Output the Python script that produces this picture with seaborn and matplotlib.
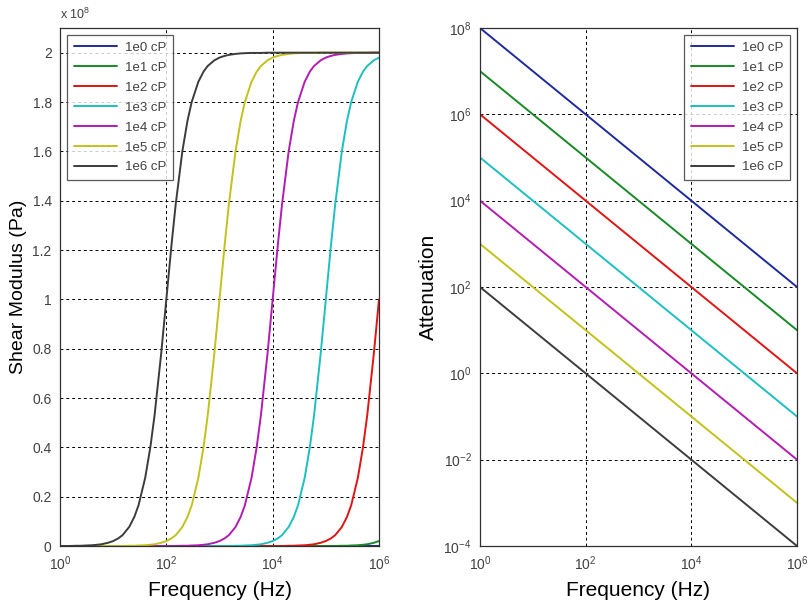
import matplotlib
matplotlib.use("Agg")
import matplotlib.pyplot as plt
import numpy as np
import pandas as pd
import seaborn as sns

# ---------------- data ----------------
labels = ["1e0 cP", "1e1 cP", "1e2 cP", "1e3 cP", "1e4 cP", "1e5 cP", "1e6 cP"]
colors = ["#1f2a9c", "#178a25", "#e01414", "#1cc0c0", "#b21cb2", "#c2c21c", "#3c3c3c"]

freq = [1, 1.25, 1.5, 2, 2.5, 3, 4, 5, 6, 8,
        10, 12.5, 15, 20, 25, 30, 40, 50, 60, 80,
        100, 125, 150, 200, 250, 300, 400, 500, 600, 800,
        1e3, 1.25e3, 1.5e3, 2e3, 2.5e3, 3e3, 4e3, 5e3, 6e3, 8e3,
        1e4, 1.25e4, 1.5e4, 2e4, 2.5e4, 3e4, 4e4, 5e4, 6e4, 8e4,
        1e5, 1.25e5, 1.5e5, 2e5, 2.5e5, 3e5, 4e5, 5e5, 6e5, 8e5,
        1e6]

# shear modulus in units of 1e8 Pa
shear_1e0 = [0, 0, 0, 0, 0, 0, 0, 0, 0, 0,
             0, 0, 0, 0, 0, 0, 0, 0, 0, 0,
             0, 0, 0, 0, 0, 0, 0, 0, 0, 0,
             0, 0, 0, 0, 0, 0, 0, 0, 0, 0,
             0, 0, 0, 0, 0, 0, 0, 0, 0, 0,
             0, 0, 0, 0, 0, 0, 0, 0, 0, 0.0001,
             0.0002]
shear_1e1 = [0, 0, 0, 0, 0, 0, 0, 0, 0, 0,
             0, 0, 0, 0, 0, 0, 0, 0, 0, 0,
             0, 0, 0, 0, 0, 0, 0, 0, 0, 0,
             0, 0, 0, 0, 0, 0, 0, 0, 0, 0,
             0, 0, 0, 0, 0, 0, 0, 0, 0, 0,
             0.000, 0.000, 0.000, 0.001, 0.001, 0.002, 0.003, 0.005, 0.007, 0.013,
             0.020]
shear_1e2 = [0, 0, 0, 0, 0, 0, 0, 0, 0, 0,
             0, 0, 0, 0, 0, 0, 0, 0, 0, 0,
             0, 0, 0, 0, 0, 0, 0, 0, 0, 0,
             0, 0, 0, 0, 0, 0, 0, 0, 0, 0,
             0.000, 0.000, 0.000, 0.001, 0.001, 0.002, 0.003, 0.005, 0.007, 0.013,
             0.020, 0.031, 0.044, 0.077, 0.118, 0.165, 0.276, 0.400, 0.529, 0.780,
             1.000]
shear_1e3 = [0, 0, 0, 0, 0, 0, 0, 0, 0, 0,
             0, 0, 0, 0, 0, 0, 0, 0, 0, 0,
             0, 0, 0, 0, 0, 0, 0, 0, 0, 0,
             0.000, 0.000, 0.000, 0.001, 0.001, 0.002, 0.003, 0.005, 0.007, 0.013,
             0.020, 0.031, 0.044, 0.077, 0.118, 0.165, 0.276, 0.400, 0.529, 0.780,
             1.000, 1.220, 1.385, 1.600, 1.724, 1.800, 1.882, 1.923, 1.946, 1.969,
             1.980]
shear_1e4 = [0, 0, 0, 0, 0, 0, 0, 0, 0, 0,
             0, 0, 0, 0, 0, 0, 0, 0, 0, 0,
             0.000, 0.000, 0.000, 0.001, 0.001, 0.002, 0.003, 0.005, 0.007, 0.013,
             0.020, 0.031, 0.044, 0.077, 0.118, 0.165, 0.276, 0.400, 0.529, 0.780,
             1.000, 1.220, 1.385, 1.600, 1.724, 1.800, 1.882, 1.923, 1.946, 1.969,
             1.980, 1.987, 1.991, 1.995, 1.997, 1.998, 1.999, 1.999, 1.999, 2.000,
             2.000]
shear_1e5 = [0, 0, 0, 0, 0, 0, 0, 0, 0, 0,
             0.000, 0.000, 0.000, 0.001, 0.001, 0.002, 0.003, 0.005, 0.007, 0.013,
             0.020, 0.031, 0.044, 0.077, 0.118, 0.165, 0.276, 0.400, 0.529, 0.780,
             1.000, 1.220, 1.385, 1.600, 1.724, 1.800, 1.882, 1.923, 1.946, 1.969,
             1.980, 1.987, 1.991, 1.995, 1.997, 1.998, 1.999, 1.999, 1.999, 2.000,
             2.000, 2.000, 2.000, 2.000, 2.000, 2.000, 2.000, 2.000, 2.000, 2.000,
             2.000]
shear_1e6 = [0.000, 0.000, 0.000, 0.001, 0.001, 0.002, 0.003, 0.005, 0.007, 0.013,
             0.020, 0.031, 0.044, 0.077, 0.118, 0.165, 0.276, 0.400, 0.529, 0.780,
             1.000, 1.220, 1.385, 1.600, 1.724, 1.800, 1.882, 1.923, 1.946, 1.969,
             1.980, 1.987, 1.991, 1.995, 1.997, 1.998, 1.999, 1.999, 1.999, 2.000,
             2.000, 2.000, 2.000, 2.000, 2.000, 2.000, 2.000, 2.000, 2.000, 2.000,
             2.000, 2.000, 2.000, 2.000, 2.000, 2.000, 2.000, 2.000, 2.000, 2.000,
             2.000]
shear_all = [shear_1e0, shear_1e1, shear_1e2, shear_1e3, shear_1e4, shear_1e5, shear_1e6]

att_freq = [1, 1e6]
att_1e0 = [1e8, 1e2]
att_1e1 = [1e7, 1e1]
att_1e2 = [1e6, 1e0]
att_1e3 = [1e5, 1e-1]
att_1e4 = [1e4, 1e-2]
att_1e5 = [1e3, 1e-3]
att_1e6 = [1e2, 1e-4]
att_all = [att_1e0, att_1e1, att_1e2, att_1e3, att_1e4, att_1e5, att_1e6]

x_ticks = [1, 1e2, 1e4, 1e6]
x_ticklabels = [r"$10^{0}$", r"$10^{2}$", r"$10^{4}$", r"$10^{6}$"]
shear_ticks = [0, 0.2, 0.4, 0.6, 0.8, 1, 1.2, 1.4, 1.6, 1.8, 2]
shear_ticklabels = ["0", "0.2", "0.4", "0.6", "0.8", "1", "1.2", "1.4", "1.6", "1.8", "2"]
att_ticks = [1e-4, 1e-2, 1e0, 1e2, 1e4, 1e6, 1e8]
att_ticklabels = [r"$10^{-4}$", r"$10^{-2}$", r"$10^{0}$", r"$10^{2}$",
                  r"$10^{4}$", r"$10^{6}$", r"$10^{8}$"]

df_shear = pd.DataFrame({
    "freq": np.tile(freq, len(labels)),
    "val": np.concatenate(shear_all),
    "lab": np.repeat(labels, len(freq)),
})
df_att = pd.DataFrame({
    "freq": np.tile(att_freq, len(labels)),
    "val": np.concatenate(att_all),
    "lab": np.repeat(labels, len(att_freq)),
})

# ---------------- style ----------------
sns.set_theme(style="white")
plt.rcParams["font.family"] = ["Liberation Sans", "DejaVu Sans"]
plt.rcParams["mathtext.fontset"] = "custom"
plt.rcParams["mathtext.rm"] = "Liberation Sans"
plt.rcParams["mathtext.it"] = "Liberation Sans"
plt.rcParams["mathtext.default"] = "regular"

fig = plt.figure(figsize=(8.09, 6.01), dpi=100)
ax1 = fig.add_axes([60 / 809, 55 / 601, 319 / 809, 518 / 601])
ax2 = fig.add_axes([480 / 809, 55 / 601, 317 / 809, 518 / 601])

pal = dict(zip(labels, colors))

sns.lineplot(data=df_shear, x="freq", y="val", hue="lab", palette=pal,
             hue_order=labels, estimator=None, sort=False, lw=1.4, ax=ax1)
sns.lineplot(data=df_att, x="freq", y="val", hue="lab", palette=pal,
             hue_order=labels, estimator=None, sort=False, lw=1.4, ax=ax2)

tick_color = "#404040"
for ax in (ax1, ax2):
    ax.set_xscale("log")
    ax.set_xlim(1, 1e6)
    ax.set_xticks(x_ticks)
    ax.set_xticklabels(x_ticklabels)
    ax.minorticks_off()
    ax.grid(True, color="black", linestyle=(0, (3, 3)), linewidth=0.7)
    ax.tick_params(direction="in", length=4, colors=tick_color, labelsize=10,
                   labelcolor=tick_color, pad=6)
    for s in ax.spines.values():
        s.set_color("#303030")
        s.set_linewidth(0.9)
    ax.set_xlabel("Frequency (Hz)", fontsize=15, color="black", labelpad=6)
    ax.get_legend().remove()

ax1.set_ylim(0, 2.1)
ax1.set_yticks(shear_ticks)
ax1.set_yticklabels(shear_ticklabels)
ax1.set_ylabel("Shear Modulus (Pa)", fontsize=14, color="black", labelpad=4)
ax1.text(0.0, 1.012, r"x $10^{8}$", transform=ax1.transAxes, fontsize=9,
         color=tick_color, ha="left", va="bottom")

ax2.set_yscale("log")
ax2.set_ylim(1e-4, 1e8)
ax2.set_yticks(att_ticks)
ax2.set_yticklabels(att_ticklabels)
ax2.minorticks_off()
ax2.set_ylabel("Attenuation", fontsize=15, color="black", labelpad=4)

for ax, loc, anchor in ((ax1, "upper left", (0.0, 1.0)), (ax2, "upper right", (1.0, 1.0))):
    hs = [plt.Line2D([], [], color=c, lw=1.4) for c in colors]
    leg = ax.legend(hs, labels, loc=loc, bbox_to_anchor=anchor, fontsize=9.5,
                    frameon=True, fancybox=False, handlelength=3.3,
                    borderaxespad=0.55, labelspacing=0.58, borderpad=0.5,
                    handletextpad=0.55)
    leg.get_frame().set_edgecolor("#303030")
    leg.get_frame().set_linewidth(0.9)
    for t in leg.get_texts():
        t.set_color(tick_color)

fig.savefig("out.png", dpi=100, facecolor="white")
